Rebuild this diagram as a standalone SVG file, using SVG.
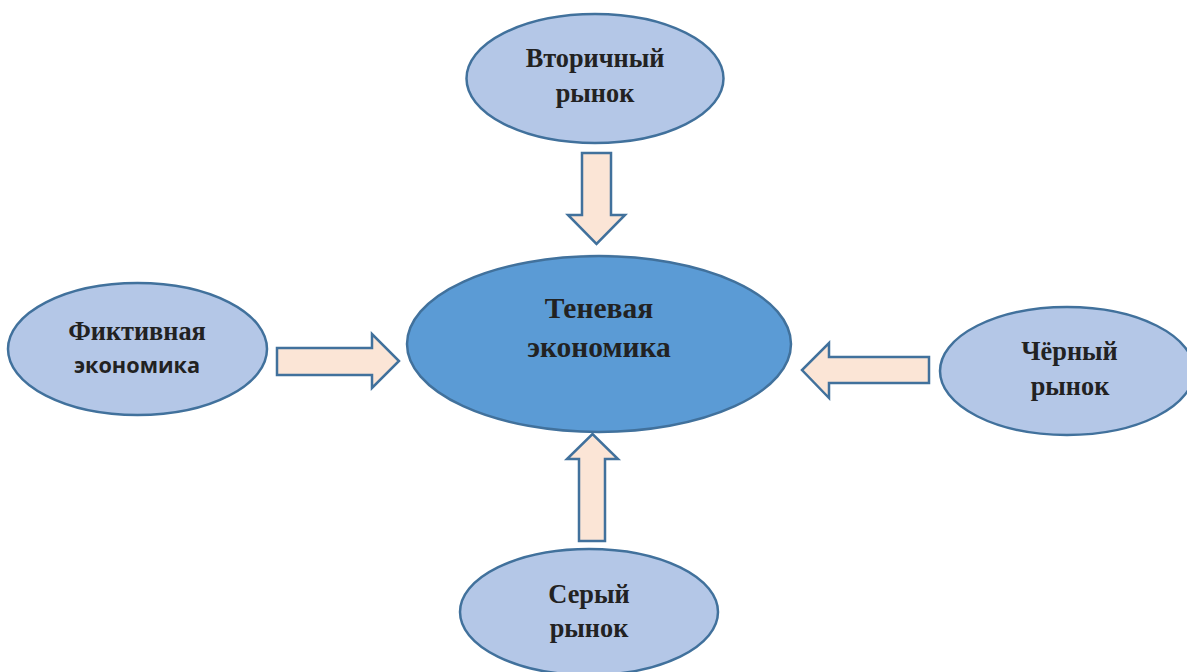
<svg xmlns="http://www.w3.org/2000/svg" width="1187" height="672" viewBox="0 0 1187 672">
  <style>
    .node { fill: #B4C7E7; stroke: #41719C; stroke-width: 2.5; }
    .core { fill: #5B9BD5; stroke: #41719C; stroke-width: 2.5; }
    .arrow { fill: #FBE5D6; stroke: #41719C; stroke-width: 2.5; stroke-linejoin: miter; }
    .lbl { font-family: "Liberation Serif", "Times New Roman", serif; font-weight: bold; font-size: 26.3px; fill: #222; text-anchor: middle; }
    .lbl-big { font-size: 29.5px; }
    .sans { font-family: "Open Sans", "Liberation Sans", sans-serif; font-weight: bold; font-size: 21.7px; }
  </style>
  <rect width="1187" height="672" fill="#FFFFFF"/>

  <g id="connectors">
    <!-- top: down arrow -->
    <polygon class="arrow" points="582,153 611,153 611,215 625,215 596.5,244 568,215 582,215"/>
    <!-- bottom: up arrow -->
    <polygon class="arrow" points="579,541 605,541 605,459 618,459 592.5,434 567,459 579,459"/>
    <!-- left: right arrow -->
    <polygon class="arrow" points="277,348 372,348 372,334 399,361 372,388 372,375 277,375"/>
    <!-- right: left arrow -->
    <polygon class="arrow" points="929,357 829,357 829,343 802,370 829,398 829,383 929,383"/>
  </g>

  <g id="node-center">
    <ellipse class="core" cx="599" cy="344" rx="192" ry="88"/>
    <text class="lbl lbl-big" x="599" y="318">Теневая</text>
    <text class="lbl lbl-big" x="599" y="357">экономика</text>
  </g>

  <g id="node-top">
    <ellipse class="node" cx="595" cy="78.5" rx="128.5" ry="64.5"/>
    <text class="lbl" x="595" y="67">Вторичный</text>
    <text class="lbl" x="595" y="102">рынок</text>
  </g>

  <g id="node-bottom">
    <ellipse class="node" cx="589" cy="612" rx="129" ry="63"/>
    <text class="lbl" x="589" y="603">Серый</text>
    <text class="lbl" x="589" y="637">рынок</text>
  </g>

  <g id="node-left">
    <ellipse class="node" cx="137.5" cy="349" rx="129.5" ry="66"/>
    <text class="lbl" x="137" y="340">Фиктивная</text>
    <text class="lbl sans" x="137" y="373">экономика</text>
  </g>

  <g id="node-right">
    <ellipse class="node" cx="1067" cy="371" rx="127" ry="64"/>
    <text class="lbl" x="1069.5" y="360">Чёрный</text>
    <text class="lbl" x="1070" y="395">рынок</text>
  </g>
</svg>
